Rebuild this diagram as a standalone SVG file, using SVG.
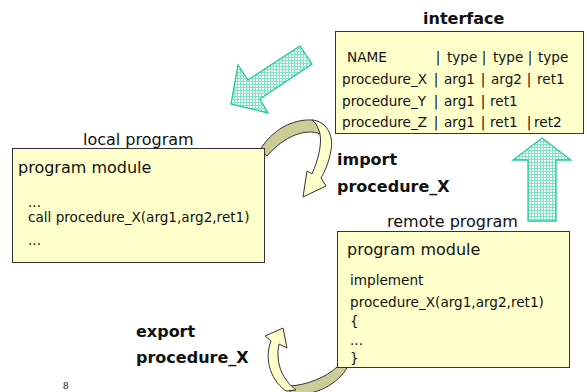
<svg xmlns="http://www.w3.org/2000/svg" width="587" height="392" viewBox="0 0 587 392">
  <style>
    .box { fill: #FFFFCC; stroke: #333333; stroke-width: 1; }
    .t { font-family: "DejaVu Sans", "Liberation Sans", sans-serif; fill: #111111; }
    .body { font-size: 13.6px; }
    .head { font-size: 16px; }
    .bold { font-size: 16px; font-weight: bold; }
    .bar { text-anchor: middle; }
    .flow { fill: url(#hatch); stroke: #22CC99; stroke-width: 1.3; stroke-linejoin: miter; }
    .ribbon-back { fill: #CCCC99; stroke: #333333; stroke-width: 1; stroke-linejoin: round; }
    .ribbon-front { fill: #FFFFCC; stroke: #333333; stroke-width: 1; stroke-linejoin: miter; }
  </style>
  <defs>
    <!-- fine cyan grid used inside the broad block arrows -->
    <pattern id="hatch" width="3" height="3" patternUnits="userSpaceOnUse">
      <rect width="3" height="3" fill="#FFFFFF"/>
      <path d="M0 0.5 H3 M0.5 0 V3" stroke="#7FE3C8" stroke-width="1"/>
    </pattern>
  </defs>

  <rect width="587" height="392" fill="#FFFFFF"/>

  <g id="connectors">
    <!-- interface description handed to the local side -->
    <polygon class="flow" points="300,46 312,64 260,99 268,113 231,104 238,65 248,80"/>
    <!-- remote side publishes into the interface -->
    <polygon class="flow" points="542,138 571,160 556,160 556,221 528,221 528,160 513,160"/>

    <!-- import: curved ribbon from local module -->
    <g id="import-arrow">
      <path class="ribbon-back" d="M260,150 C272,130 292,119 312,120 C317,123 320,128 320,134 C306,128 284,136 267,156 Z"/>
      <path class="ribbon-front" d="M312,120 C326,121 334,135 331,150 C329,162 325,171 321,178 L326,186 L303,197 L307,171 L312,174 C318,160 322,145 320,134 C318,126 315,122 312,120 Z"/>
    </g>
    <text class="t bold" x="337" y="165">import</text>
    <text class="t bold" x="337" y="192">procedure_X</text>

    <!-- export: curved ribbon from remote module -->
    <g id="export-arrow">
      <path class="ribbon-back" d="M290,386 C306,385 326,378 338,366 L348,366 C338,385 315,396 290,395 Z"/>
      <path class="ribbon-front" d="M283,328 L265,336 L271,341 C265,356 268,378 286,391 L296,390 C283,380 275,364 279,344 L287,348 Z"/>
    </g>
    <text class="t bold" x="136" y="337">export</text>
    <text class="t bold" x="136" y="363">procedure_X</text>
  </g>

  <g id="node-interface">
    <text class="t bold" x="423" y="24">interface</text>
    <rect class="box" x="335.5" y="31.5" width="248" height="102"/>
    <g class="t body">
      <text x="347" y="62">NAME</text>
      <text class="bar" x="438" y="62">|</text>
      <text x="447" y="62">type</text>
      <text class="bar" x="484" y="62">|</text>
      <text x="493" y="62">type</text>
      <text class="bar" x="530" y="62">|</text>
      <text x="538" y="62">type</text>

      <text x="342" y="84">procedure_X</text>
      <text class="bar" x="436" y="84">|</text>
      <text x="444" y="84">arg1</text>
      <text class="bar" x="483" y="84">|</text>
      <text x="491" y="84">arg2</text>
      <text class="bar" x="529" y="84">|</text>
      <text x="537" y="84">ret1</text>

      <text x="342" y="105.5">procedure_Y</text>
      <text class="bar" x="436" y="105.5">|</text>
      <text x="444" y="105.5">arg1</text>
      <text class="bar" x="483" y="105.5">|</text>
      <text x="490" y="105.5">ret1</text>

      <text x="342" y="127">procedure_Z</text>
      <text class="bar" x="436" y="127">|</text>
      <text x="444" y="127">arg1</text>
      <text class="bar" x="483" y="127">|</text>
      <text x="490" y="127">ret1</text>
      <text class="bar" x="529" y="127">|</text>
      <text x="534" y="127">ret2</text>
    </g>
  </g>

  <g id="node-local">
    <text class="t head" x="83" y="145">local program</text>
    <rect class="box" x="12.5" y="148.5" width="252" height="114"/>
    <text class="t head" x="18" y="173">program module</text>
    <text class="t body" x="28" y="207">...</text>
    <text class="t body" x="28" y="222">call procedure_X(arg1,arg2,ret1)</text>
    <text class="t body" x="28" y="245">...</text>
  </g>

  <g id="node-remote">
    <text class="t head" x="387" y="227">remote program</text>
    <rect class="box" x="337.5" y="231.5" width="232" height="136"/>
    <text class="t head" x="347" y="255">program module</text>
    <text class="t body" x="350" y="285">implement</text>
    <text class="t body" x="350" y="307">procedure_X(arg1,arg2,ret1)</text>
    <text class="t body" x="350" y="326">{</text>
    <text class="t body" x="350" y="345">...</text>
    <text class="t body" x="350" y="363">}</text>
  </g>

  <text x="63" y="389" font-family="'Liberation Serif', serif" font-size="11" fill="#111111">8</text>
</svg>
